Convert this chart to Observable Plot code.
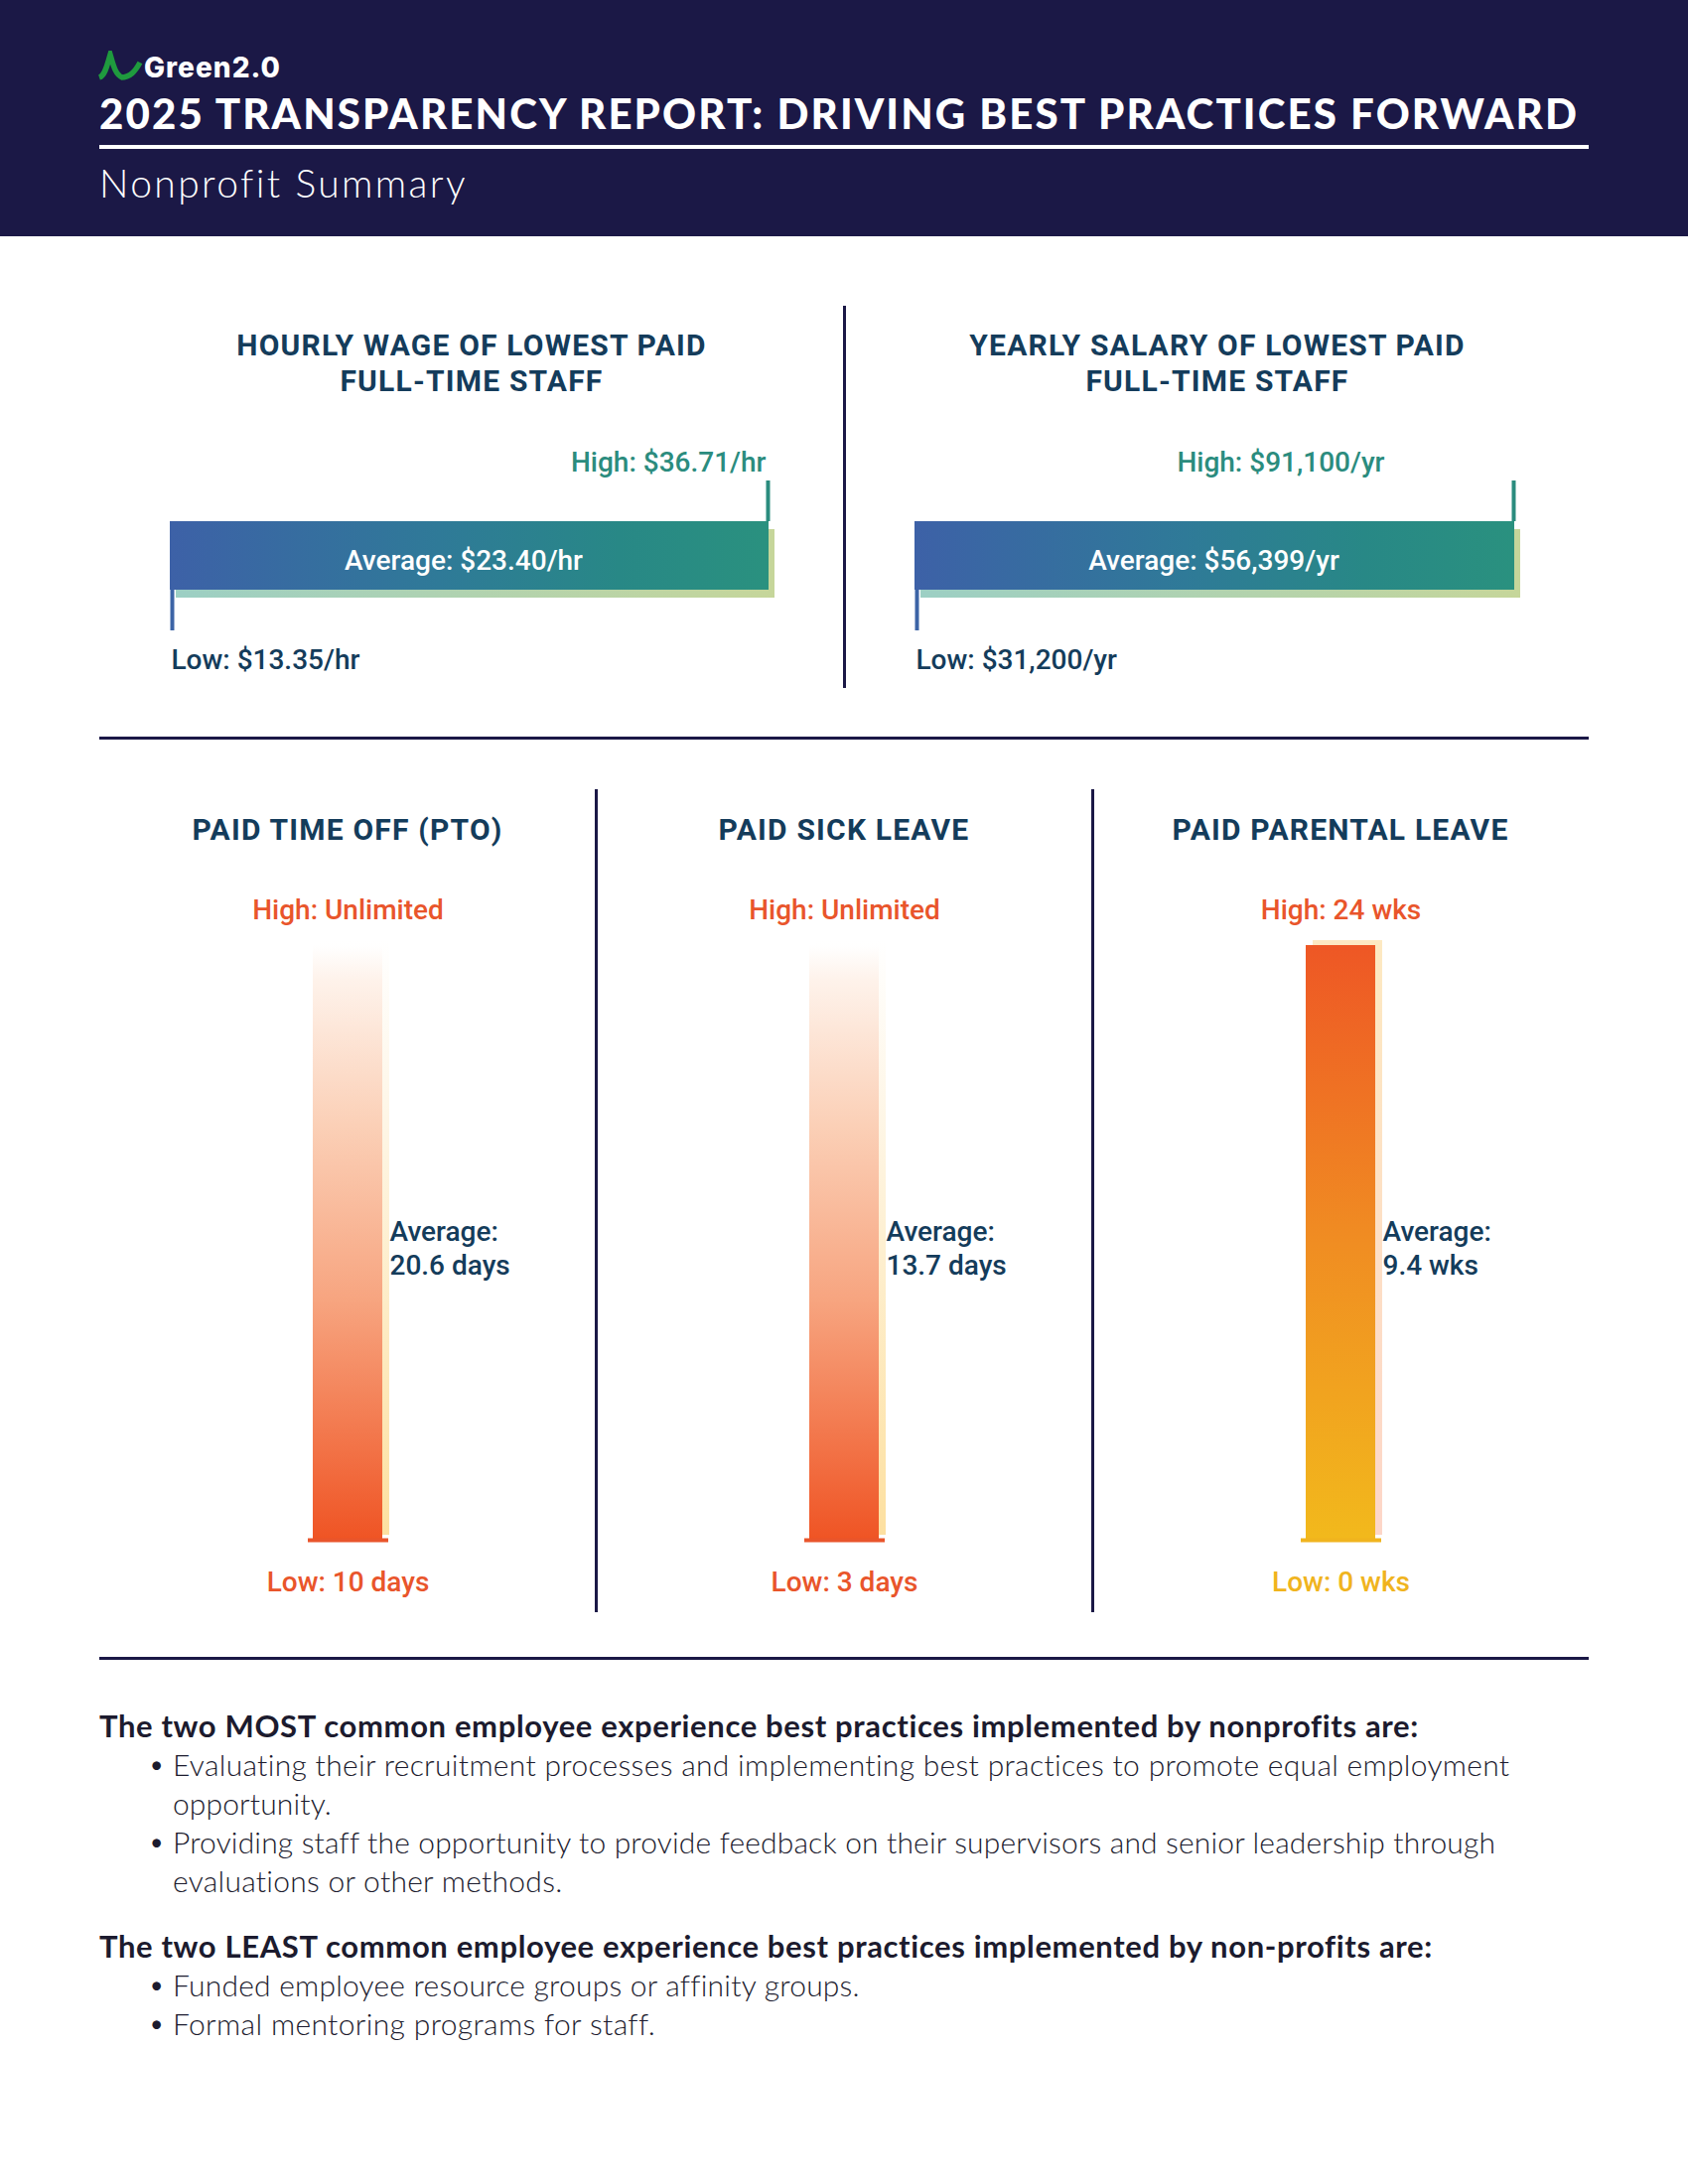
<!DOCTYPE html>
<html><head><meta charset="utf-8">
<script src="https://cdn.jsdelivr.net/npm/d3@7"></script>
<script src="https://cdn.jsdelivr.net/npm/@observablehq/plot@0.6"></script>
<style>
html,body{margin:0;padding:0;background:#fff;}
#page{position:relative;width:1700px;height:2200px;overflow:hidden;background:#fff;}
.t{position:absolute;white-space:nowrap;line-height:1;}
.plot{position:absolute;}
.rule{position:absolute;background:#1b1846;}
</style></head><body><div id="page"></div>
<script>
// ---------- data ----------
const reportTitle = "2025 TRANSPARENCY REPORT: DRIVING BEST PRACTICES FORWARD";
const reportSubtitle = "Nonprofit Summary";
const logoText = "Green2.0";

const payTitles = [["HOURLY WAGE OF LOWEST PAID", "FULL-TIME STAFF"], ["YEARLY SALARY OF LOWEST PAID", "FULL-TIME STAFF"]];
const payLow = [13.35, 31200];
const payHigh = [36.71, 91100];
const payAvg = [23.40, 56399];
const payUnit = ["hr", "yr"];

const leaveTitles = ["PAID TIME OFF (PTO)", "PAID SICK LEAVE", "PAID PARENTAL LEAVE"];
const leaveLow = [10, 3, 0];
const leaveHigh = ["Unlimited", "Unlimited", 24];
const leaveAvg = [20.6, 13.7, 9.4];
const leaveUnit = ["days", "days", "wks"];

const mostHeading = "The two MOST common employee experience best practices implemented by nonprofits are:";
const mostItems = [
  ["Evaluating their recruitment processes and implementing best practices to promote equal employment", "opportunity."],
  ["Providing staff the opportunity to provide feedback on their supervisors and senior leadership through", "evaluations or other methods."]
];
const leastHeading = "The two LEAST common employee experience best practices implemented by non-profits are:";
const leastItems = [
  ["Funded employee resource groups or affinity groups."],
  ["Formal mentoring programs for staff."]
];

// ---------- styles ----------
const NAVY = "#143c5b", DARK = "#1b1846", TEAL = "#2b8c7e", BLUE = "#3c64a6",
      ORANGE = "#e9552b", YELLOW = "#f0b41e", BODY = "#1c1b2e";
const page = document.getElementById("page");

function box(left, top, w, h, color) {
  const d = document.createElement("div");
  d.className = "rule";
  Object.assign(d.style, {left: left + "px", top: top + "px", width: w + "px", height: h + "px"});
  if (color) d.style.background = color;
  page.appendChild(d);
  return d;
}
function txt(str, o) {
  const el = document.createElement("div");
  el.className = "t";
  el.textContent = str;
  Object.assign(el.style, {
    fontFamily: o.family || "Roboto", fontSize: o.size + "px", fontWeight: o.weight || 400,
    color: o.color || NAVY, letterSpacing: (o.ls || 0) + "px"
  });
  page.appendChild(el);
  let r = el.getBoundingClientRect();
  if (o.width) {
    const n = [...str].length;
    el.style.letterSpacing = ((o.ls || 0) + (o.width - r.width) / n) + "px";
    r = el.getBoundingClientRect();
  }
  const left = o.anchor === "middle" ? o.x - r.width / 2 : o.x;
  el.style.left = left + "px";
  el.style.top = (o.y - r.height / 2) + "px";
  return el;
}
function addDefs(svg, html) {
  const defs = document.createElementNS("http://www.w3.org/2000/svg", "defs");
  defs.innerHTML = html;
  svg.insertBefore(defs, svg.firstChild);
}
function place(svg, left, top) {
  svg.classList.add("plot");
  svg.style.left = left + "px";
  svg.style.top = top + "px";
  page.appendChild(svg);
}

function build() {
  // header
  box(0, 0, 1700, 238, DARK);
  const logo = document.createElementNS("http://www.w3.org/2000/svg", "svg");
  logo.setAttribute("width", 50); logo.setAttribute("height", 32);
  Object.assign(logo.style, {position: "absolute", left: "97px", top: "51px"});
  logo.innerHTML = `<g fill="none" stroke="#1f9a3e" stroke-width="5.5" stroke-linecap="butt">
    <path d="M3 27 C9 25 11 14 14 4 C17 14 19 24 26 27"/>
    <path d="M25 27 C34 27 39 21 44 12"/></g>`;
  page.appendChild(logo);
  txt(logoText, {x: 145, y: 68, size: 28, weight: 800, family: "Inter", color: "#fff", width: 138});
  txt(reportTitle, {x: 100, y: 114, size: 42, weight: 900, family: "Lato", color: "#fff", width: 1490});
  box(100, 146, 1500, 4, "#fff");
  txt(reportSubtitle, {x: 100, y: 184, size: 39, weight: 300, family: "Lato", color: "#fff", width: 370});

  // pay section
  const payLeft = [121, 871], payMR = [47, 46], payHdx = [-3, -131], payAdx = [-6, -1];
  const payFmt = [d3.format("$.2f"), d3.format("$,.0f")];
  const payCenter = [475, 1226];
  payTitles.forEach((lines, i) => {
    lines.forEach((l, j) => txt(l, {x: payCenter[i], y: 348 + j * 36, size: 30, weight: 700, ls: 1.2, anchor: "middle", color: NAVY}));
  });
  payLow.forEach((low, i) => {
    const f = payFmt[i], u = payUnit[i];
    const data = [{low, high: payHigh[i], avg: payAvg[i]}];
    const svg = Plot.plot({
      width: 700, height: 260, marginLeft: 50, marginRight: payMR[i], marginTop: 85, marginBottom: 106,
      x: {domain: [low, payHigh[i]], axis: null},
      style: {background: "transparent", overflow: "visible", fontFamily: "Roboto"},
      marks: [
        Plot.barX(data, {x1: "low", x2: "high", fill: `url(#hs${i})`, dx: 6, dy: 8}),
        Plot.barX(data, {x1: "low", x2: "high", fill: `url(#hb${i})`}),
        Plot.ruleX(data, {x: "high", stroke: TEAL, strokeWidth: 4, dx: -1, insetTop: -41, insetBottom: 69}),
        Plot.ruleX(data, {x: "low", stroke: BLUE, strokeWidth: 4, dx: 2, insetTop: 69, insetBottom: -41}),
        Plot.text(data, {x: "high", text: d => `High: ${f(d.high)}/${u}`, frameAnchor: "top", textAnchor: "end",
          dx: payHdx[i], dy: -70, fill: TEAL, fontSize: 28, fontWeight: 500}),
        Plot.text(data, {x: "low", text: d => `Low: ${f(d.low)}/${u}`, frameAnchor: "bottom", textAnchor: "start",
          dx: 1, dy: 79, fill: NAVY, fontSize: 28, fontWeight: 500}),
        Plot.text(data, {text: d => `Average: ${f(d.avg)}/${u}`, frameAnchor: "middle",
          dx: payAdx[i], dy: 5, fill: "#fff", fontSize: 28, fontWeight: 500})
      ]
    });
    addDefs(svg, `
      <linearGradient id="hb${i}" x1="0" y1="0" x2="1" y2="0">
        <stop offset="0" stop-color="#3d61a7"/><stop offset="0.45" stop-color="#2f7a98"/>
        <stop offset="0.75" stop-color="#288886"/><stop offset="1" stop-color="#2a917f"/></linearGradient>
      <linearGradient id="hs${i}" x1="0" y1="0" x2="1" y2="0">
        <stop offset="0" stop-color="#9ccfc4"/><stop offset="1" stop-color="#c6d69a"/></linearGradient>`);
    place(svg, payLeft[i], 440);
  });
  box(849, 308, 3, 385);
  box(100, 742, 1500, 3);

  // leave section
  const leaveLeft = [100, 600, 1100];
  const lowColor = [ORANGE, ORANGE, YELLOW];
  const barStops = [
    [["0", "#ffffff"], ["0.06", "#fef2ea"], ["0.3", "#fbd0b7"], ["0.6", "#f7a47f"], ["1", "#ef5424"]],
    [["0", "#ffffff"], ["0.06", "#fef2ea"], ["0.3", "#fbd0b7"], ["0.6", "#f7a47f"], ["1", "#ef5424"]],
    [["0", "#ee5725"], ["0.5", "#f08d22"], ["1", "#f2b91c"]]
  ];
  const shadowStops = [
    [["0", "#ffffff"], ["0.3", "#fef6e6"], ["1", "#fde0a0"]],
    [["0", "#ffffff"], ["0.3", "#fef6e6"], ["1", "#fde0a0"]],
    [["0", "#fde9c2"], ["1", "#fdd6c8"]]
  ];
  const stopsHtml = s => s.map(([o, c]) => `<stop offset="${o}" stop-color="${c}"/>`).join("");
  leaveTitles.forEach((title, i) => {
    txt(title, {x: leaveLeft[i] + 250, y: 836, size: 30, weight: 700, ls: 1.2, anchor: "middle", color: NAVY});
    const data = [{name: title, low: leaveLow[i], high: leaveHigh[i], avg: leaveAvg[i], unit: leaveUnit[i]}];
    const svg = Plot.plot({
      width: 500, height: 760, marginLeft: 215, marginRight: 215, marginTop: 72, marginBottom: 89,
      y: {type: "point", domain: ["High", "Low"], padding: 0, axis: null},
      style: {background: "transparent", overflow: "visible", fontFamily: "Roboto"},
      marks: [
        Plot.barY(data, {y1: () => "Low", y2: () => "High", fill: `url(#vs${i})`, dx: 7, dy: -5}),
        Plot.barY(data, {y1: () => "Low", y2: () => "High", fill: `url(#vb${i})`}),
        Plot.ruleY(data, {y: () => "Low", stroke: lowColor[i], strokeWidth: 4, insetLeft: -5, insetRight: -6}),
        Plot.text(data, {text: d => `High: ${typeof d.high === "number" ? d.high + " " + d.unit : d.high}`,
          frameAnchor: "top", dy: -46, fill: ORANGE, fontSize: 28, fontWeight: 500}),
        Plot.text(data, {text: d => `Low: ${d.low} ${d.unit}`, frameAnchor: "bottom", dy: 51,
          fill: lowColor[i], fontSize: 28, fontWeight: 500}),
        Plot.text(data, {text: d => `Average:\n${d.avg} ${d.unit}`, frameAnchor: "right", textAnchor: "start",
          dx: 7, dy: 4, lineHeight: 1.2, fill: NAVY, fontSize: 28, fontWeight: 500})
      ]
    });
    addDefs(svg, `
      <linearGradient id="vb${i}" x1="0" y1="0" x2="0" y2="1">${stopsHtml(barStops[i])}</linearGradient>
      <linearGradient id="vs${i}" x1="0" y1="0" x2="0" y2="1">${stopsHtml(shadowStops[i])}</linearGradient>`);
    place(svg, leaveLeft[i], 880);
  });
  box(599, 795, 3, 829);
  box(1099, 795, 3, 829);
  box(100, 1669, 1500, 3);

  // practices text
  const headW = [1329, 1343];
  const lineW = {
    "Evaluating their recruitment processes and implementing best practices to promote equal employment": 1348,
    "opportunity.": 160,
    "Providing staff the opportunity to provide feedback on their supervisors and senior leadership through": 1331,
    "evaluations or other methods.": 393,
    "Funded employee resource groups or affinity groups.": 690,
    "Formal mentoring programs for staff.": 485
  };
  let y = 1738;
  [[mostHeading, mostItems], [leastHeading, leastItems]].forEach(([head, items], k) => {
    if (k === 1) y = 1960;
    txt(head, {x: 100, y, size: 31, weight: 700, family: "Lato", color: BODY, width: headW[k]});
    y += 39;
    items.forEach(lines => {
      txt("•", {x: 151, y, size: 23, weight: 400, family: "Lato", color: BODY});
      lines.forEach(l => {
        txt(l, {x: 174, y, size: 30, weight: 300, family: "Lato", color: BODY, width: lineW[l]});
        y += 39;
      });
    });
  });
}
(document.fonts && document.fonts.ready ? document.fonts.ready : Promise.resolve()).then(build);
</script></body></html>
